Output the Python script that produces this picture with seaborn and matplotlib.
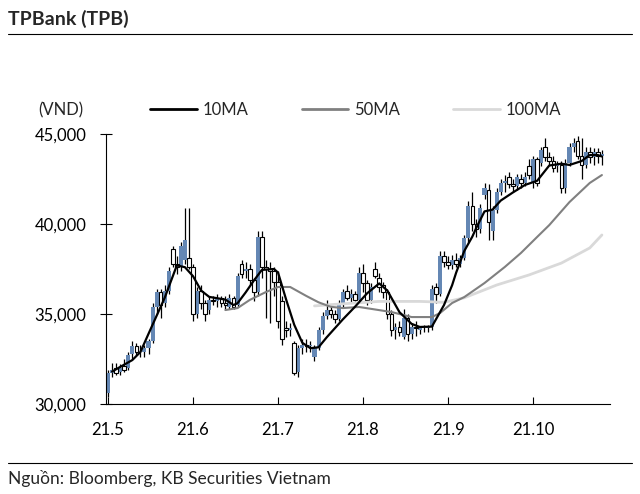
import matplotlib
matplotlib.use("Agg")
import matplotlib.pyplot as plt
from matplotlib.lines import Line2D
from matplotlib.ticker import FuncFormatter
import seaborn as sns
import pandas as pd
import numpy as np

# daily OHLC, trading days from 21.5
opens = [30600, 31700, 32000, 31800, 32100, 32000, 32800, 33200, 33000, 32900, 33100,
         33500, 35400, 36200, 35600, 36300, 38600, 37800, 37600, 38000, 38100,
         37600, 35000, 36300, 35600, 35200, 35800, 35700, 35900, 35600, 35400, 35900,
         35500, 37800, 37400, 37500, 36900, 36200, 39300, 37600, 37500, 37400,
         36800, 35700, 34200, 34100, 33400, 31800, 33100, 33300, 33200, 32600, 33100,
         34100, 34900, 35200, 35000, 34700, 35600, 36300, 35900, 36100, 35800,
         37300, 36700, 35800, 37500, 37000, 36600, 36200, 35000, 34100, 34300, 33700,
         34800, 33900, 34300, 34100, 34200, 34200, 34300, 36500, 36100, 38200,
         37900, 37700, 38000, 37800, 38100, 39200, 41000, 40000, 39700, 41600, 41900,
         39600, 40800, 41800, 42300, 42600, 42200, 42100, 42500, 42300, 43200,
         42300, 43600, 43400, 44300, 43700, 43500, 43200, 43300, 42000, 43400, 44300,
         44600, 43800, 43300, 44000, 43700, 44000, 43800]
highs = [31900, 32300, 32300, 32200, 32500, 32900, 33500, 33400, 33300, 33300, 33600,
         35600, 36400, 36400, 36600, 37600, 38800, 38200, 39000, 40900, 40900,
         37800, 36500, 36600, 35800, 36000, 36000, 36100, 36000, 36000, 36100, 36000,
         37300, 38000, 37900, 37800, 37000, 39600, 39600, 38000, 37900, 37600,
         37400, 36000, 34600, 34500, 33500, 33300, 33600, 33600, 33500, 33300, 34300,
         35100, 35800, 35500, 35200, 35800, 36400, 36600, 36400, 36300, 37600,
         37800, 36900, 36700, 37900, 37300, 36800, 36400, 35200, 34500, 34600, 35300,
         35000, 34500, 34600, 34300, 34400, 34400, 36600, 36700, 38500, 38500,
         38200, 38300, 38400, 38300, 39400, 41300, 41800, 40300, 41100, 42300, 42200,
         41000, 42000, 42500, 42700, 42900, 42500, 42800, 42800, 42900, 43600,
         43800, 43700, 44300, 44800, 44000, 43800, 43500, 43500, 43600, 44500, 44800,
         44900, 44800, 44300, 44300, 44200, 44200, 44100]
lows = [30400, 31500, 31600, 31600, 31800, 31900, 32500, 32700, 32600, 32600, 32800,
        33400, 35000, 34800, 35400, 36100, 37600, 37200, 37400, 37800, 37500,
        34600, 34800, 35300, 34600, 35000, 35500, 35400, 35400, 35200, 35300, 35300,
        35400, 37000, 37000, 36600, 35700, 36000, 37000, 34800, 34500, 36000,
        34200, 33300, 33700, 33800, 31600, 31500, 32800, 32900, 32900, 32400, 33000,
        33900, 34700, 34800, 34500, 34600, 35400, 35800, 35600, 35700, 35700,
        36200, 35500, 35600, 37000, 36200, 35900, 34700, 33800, 33600, 33800, 33600,
        33500, 33600, 33800, 33900, 34000, 34000, 34100, 35600, 36000, 37600,
        37500, 37500, 37600, 37600, 38000, 39000, 39600, 39300, 39500, 41400, 39100,
        39100, 40600, 41600, 41800, 42000, 41800, 41900, 42000, 42100, 42500,
        42000, 42100, 43200, 43500, 43300, 42900, 42900, 41700, 41700, 43200, 44000,
        43600, 42500, 43100, 43400, 43300, 43400, 43300]
closes = [31700, 31900, 31700, 32000, 31900, 32700, 33200, 32900, 33000, 33100, 33500,
          35400, 36200, 35500, 36300, 37400, 37800, 37600, 38800, 39100, 37600,
          35000, 36300, 35600, 35000, 35800, 35700, 35900, 35600, 35500, 35900, 35400,
          37100, 37200, 37500, 36900, 36200, 39300, 37600, 37500, 37400, 36800,
          34600, 33600, 34100, 34200, 31700, 33100, 33300, 33200, 33300, 33100, 34100,
          34900, 35200, 35000, 34700, 35600, 36200, 35900, 36100, 35800, 37300,
          36700, 35800, 36500, 37100, 36500, 36200, 35000, 34100, 34300, 34000, 34800,
          33900, 34300, 34200, 34200, 34200, 34300, 36400, 36100, 38200, 37900,
          37700, 38000, 37800, 38100, 39200, 41000, 40000, 39700, 40900, 42000, 40100,
          40800, 41800, 42300, 42400, 42200, 42100, 42600, 42300, 42600, 42700,
          43600, 42300, 44100, 43700, 43500, 43100, 43300, 42000, 43400, 44300, 44500,
          43800, 43300, 44000, 43700, 44000, 43800, 43900]

# moving averages
ma10_day = [1, 3, 6, 8, 10, 12, 14, 16, 17, 19, 21, 23, 25, 29, 31, 32, 34, 36, 38, 41,
            42, 44, 46, 48, 50, 52, 54, 58, 61, 64, 67, 69, 72, 75, 77, 80, 82, 83, 85,
            86, 88, 90, 91, 93, 95, 97, 100, 103, 106, 109, 112, 114, 117, 119, 121, 122]
ma10 = [31800, 32060, 32440, 32890, 33900, 34900, 35900, 37100, 37700, 37600, 37100,
        36300, 35950, 35800, 35500, 35600, 36200, 36850, 37450, 37500, 37300, 35800,
        34400, 33400, 33100, 33150, 33700, 34700, 35400, 36150, 36700, 36300, 35100,
        34450, 34280, 34300, 35100, 35500, 36600, 37300, 38500, 39300, 39800, 40700,
        40800, 41300, 41750, 42170, 42400, 43250, 43350, 43280, 43500, 43830, 43830, 43750]
ma50_day = [29, 32, 35, 39, 42, 45, 49, 52, 55, 58, 62, 70, 75, 80, 82, 85, 88, 93, 98,
            102, 106, 109, 114, 119, 122]
ma50 = [35220, 35330, 35780, 36220, 36500, 36500, 36000, 35650, 35400, 35330, 35390,
        35110, 34830, 34830, 35050, 35610, 35940, 36720, 37610, 38390, 39280, 39940,
        41220, 42280, 42720]
ma100_day = [51, 57, 67, 77, 83, 88, 96, 104, 112, 119, 122]
ma100 = [35450, 35550, 35700, 35700, 35650, 35900, 36610, 37170, 37830, 38670, 39390]

month_pos = [0, 21, 42, 63, 84, 105]
month_labels = ['21.5', '21.6', '21.7', '21.8', '21.9', '21.10']

sns.set_theme(style='white')
plt.rcParams['font.family'] = ['Lato', 'DejaVu Sans']

blue = '#6487b4'
df = pd.DataFrame({'day': np.arange(len(closes)), 'open': opens, 'high': highs,
                   'low': lows, 'close': closes})
up = df[df['close'] >= df['open']]
down = df[df['close'] < df['open']]

fig = plt.figure(figsize=(6.4, 4.94), dpi=100)
ax = fig.add_axes([106 / 640, 1 - 404 / 494, 504 / 640, 270 / 494])

# candles
ax.vlines(df['day'], df['low'], df['high'], color='black', lw=0.9, zorder=1)
ax.bar(up['day'], up['close'] - up['open'], bottom=up['open'], width=1.0,
       color=blue, edgecolor='none', zorder=2)
ax.bar(down['day'], down['close'] - down['open'], bottom=down['open'], width=0.9,
       color='white', edgecolor='black', linewidth=0.8, zorder=2)

# moving averages
sns.lineplot(x=ma100_day, y=ma100, ax=ax, color='#d9d9d9', lw=2, zorder=3)
sns.lineplot(x=ma50_day, y=ma50, ax=ax, color='#808080', lw=1.5, zorder=4)
sns.lineplot(x=ma10_day, y=ma10, ax=ax, color='black', lw=1.6, zorder=5)

ax.set_xlim(-0.5, 124)
ax.set_ylim(30000, 45000)
ax.set_xticks(month_pos)
ax.set_xticklabels(month_labels)
ax.set_yticks([30000, 35000, 40000, 45000])
ax.yaxis.set_major_formatter(FuncFormatter(lambda v, p: f'{int(v):,}'))
ax.tick_params(axis='x', direction='in', length=5, width=0.8, pad=13, labelsize=12,
               colors='black', bottom=True)
ax.tick_params(axis='y', direction='inout', length=8, width=0.8, pad=10, labelsize=12,
               colors='black', left=True)
for s in ['top', 'right']:
    ax.spines[s].set_visible(False)
for s in ['left', 'bottom']:
    ax.spines[s].set_color('black')
    ax.spines[s].set_linewidth(0.8)
ax.set_xlabel('')
ax.set_ylabel('')

handles = [Line2D([], [], color='black', lw=2, label='10MA'),
           Line2D([], [], color='#808080', lw=2, label='50MA'),
           Line2D([], [], color='#d9d9d9', lw=2, label='100MA')]
ax.legend(handles=handles, ncol=3, loc='center left', bbox_to_anchor=(0.087, 1.089),
          frameon=False, handlelength=2.8, handletextpad=0.35, columnspacing=3.2,
          fontsize=12, borderaxespad=0, borderpad=0)

fig.text(38 / 640, 1 - 110 / 494, '(VND)', fontsize=12, va='center')
fig.text(8 / 640, 1 - 19 / 494, 'TPBank (TPB)', fontsize=14, fontweight='bold', va='center')
fig.add_artist(Line2D([8 / 640, 632 / 640], [1 - 34 / 494] * 2, color='black', lw=0.8))
fig.add_artist(Line2D([8 / 640, 632 / 640], [1 - 463 / 494] * 2, color='black', lw=0.8))
fig.text(8 / 640, 1 - 478 / 494, 'Nguồn: Bloomberg, KB Securities Vietnam', fontsize=12.5,
         va='center')

fig.savefig('out.png', dpi=100)
